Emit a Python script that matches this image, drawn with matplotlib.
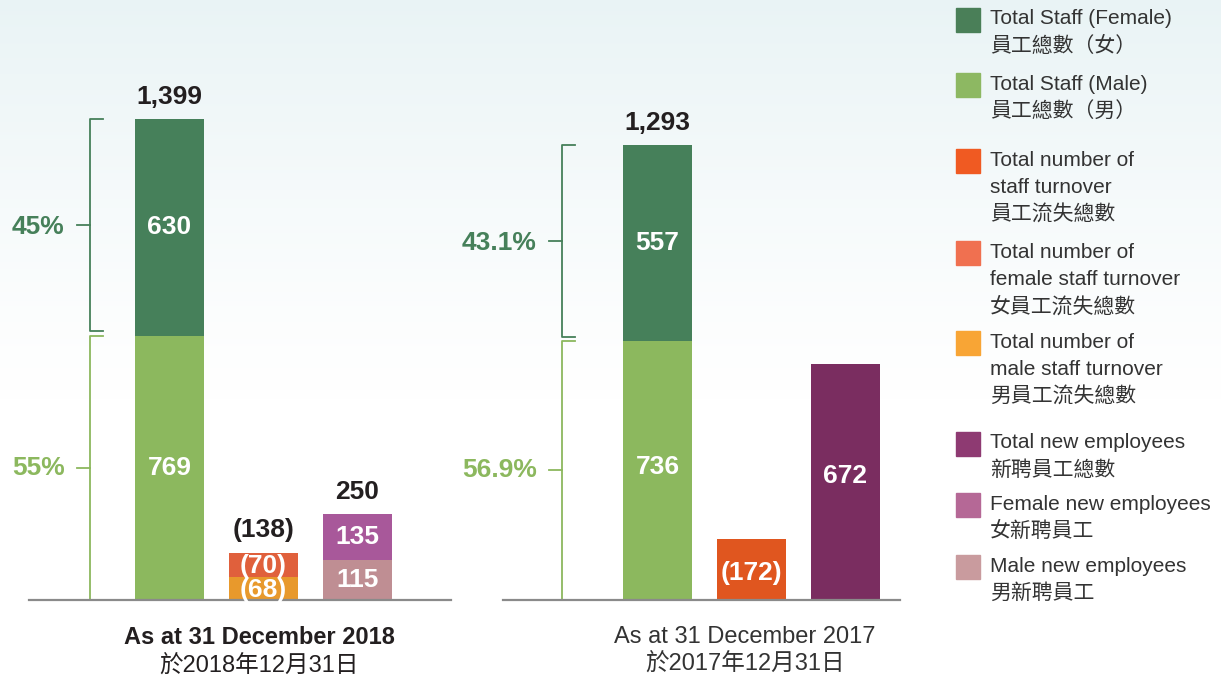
import numpy as np
import matplotlib
matplotlib.use("Agg")
import matplotlib.pyplot as plt
from matplotlib.patches import Rectangle

plt.rcParams['font.family'] = ['Liberation Sans', 'Noto Sans CJK TC']

# ---- data ----
female_staff = [630, 557]      # 2018, 2017
male_staff = [769, 736]
pct_female = ['45%', '43.1%']
pct_male = ['55%', '56.9%']
female_turnover_2018 = 70
male_turnover_2018 = 68
turnover_2017 = 172
female_new_2018 = 135
male_new_2018 = 115
new_2017 = 672
titles_en = ['As at 31 December 2018', 'As at 31 December 2017']
titles_zh = ['於2018年12月31日', '於2017年12月31日']

legend_labels = [
    'Total Staff (Female)\n員工總數（女）',
    'Total Staff (Male)\n員工總數（男）',
    'Total number of\nstaff turnover\n員工流失總數',
    'Total number of\nfemale staff turnover\n女員工流失總數',
    'Total number of\nmale staff turnover\n男員工流失總數',
    'Total new employees\n新聘員工總數',
    'Female new employees\n女新聘員工',
    'Male new employees\n男新聘員工',
]

# colours
c_female = '#46805a'
c_male = '#8cb85e'
c_turn = '#e0561f'
c_turn_f = '#e0603c'
c_turn_m = '#e8992c'
c_new = '#7a2d60'
c_new_f = '#a8589a'
c_new_m = '#bf8e93'
legend_colors = ['#4a7f58', '#8db862', '#f05a22', '#f07050', '#f8a535',
                 '#8e3a72', '#b56896', '#c99b9e']

W, H = 1221, 678
fig = plt.figure(figsize=(W / 100, H / 100), dpi=100)

# background: light blue-green wash at top fading to white
bg = fig.add_axes([0, 0, 1, 1], zorder=-10)
grad = np.linspace(0, 1, 300)[:, None]
top = np.array([0.915, 0.955, 0.962])
img = np.ones((300, 2, 3))
fade = np.clip(1 - grad * 1.7, 0, 1) ** 1.2
img = img - (1 - top) * fade[:, :, None]
bg.imshow(img, aspect='auto', extent=[0, 1, 0, 1])
bg.axis('off')


def fx(px):
    return px / W


def fy(py):
    return 1 - py / H


x = np.arange(3)
width = 0.73

ax1 = fig.add_axes([fx(29), fy(600), fx(451) - fx(29), fy(0) - fy(600)])
ax2 = fig.add_axes([fx(503), fy(600), fx(900) - fx(503), fy(0) - fy(600)])
ax1.set_xlim(-1.495, 2.995)
ax1.set_ylim(0, 1745)
ax2.set_xlim(-1.644, 2.58)
ax2.set_ylim(0, 1705)

for ax in (ax1, ax2):
    ax.patch.set_alpha(0)
    for s in ['top', 'right', 'left']:
        ax.spines[s].set_visible(False)
    ax.spines['bottom'].set_color('#8a8a8a')
    ax.spines['bottom'].set_linewidth(1.6)
    ax.set_xticks([])
    ax.set_yticks([])

val_kw = dict(ha='center', va='center', color='white', fontsize=19, fontweight='bold')
top_kw = dict(ha='center', va='center', color='#231f20', fontsize=19, fontweight='bold',
              textcoords='offset points', xytext=(0, 16))

# ---- 2018 ----
ax1.bar(x[0], male_staff[0], width, color=c_male)
ax1.bar(x[0], female_staff[0], width, bottom=male_staff[0], color=c_female)
ax1.bar(x[1], male_turnover_2018, width, color=c_turn_m)
ax1.bar(x[1], female_turnover_2018, width, bottom=male_turnover_2018, color=c_turn_f)
ax1.bar(x[2], male_new_2018, width, color=c_new_m)
ax1.bar(x[2], female_new_2018, width, bottom=male_new_2018, color=c_new_f)

ax1.text(x[0], male_staff[0] / 2, str(male_staff[0]), **val_kw)
ax1.text(x[0], male_staff[0] + female_staff[0] / 2, str(female_staff[0]), **val_kw)
ax1.text(x[1], male_turnover_2018 / 2 - 4, f'({male_turnover_2018})', **val_kw)
ax1.text(x[1], male_turnover_2018 + female_turnover_2018 / 2 - 4,
         f'({female_turnover_2018})', **val_kw)
ax1.text(x[2], male_new_2018 / 2, str(male_new_2018), **val_kw)
ax1.text(x[2], male_new_2018 + female_new_2018 / 2, str(female_new_2018), **val_kw)

tot = male_staff[0] + female_staff[0]
ax1.annotate(f'{tot:,}', (x[0], tot), **top_kw)
tt = male_turnover_2018 + female_turnover_2018
ax1.annotate(f'({tt})', (x[1], tt), **top_kw)
tn = male_new_2018 + female_new_2018
ax1.annotate(f'{tn}', (x[2], tn), **top_kw)

# ---- 2017 ----
ax2.bar(x[0], male_staff[1], width, color=c_male)
ax2.bar(x[0], female_staff[1], width, bottom=male_staff[1], color=c_female)
ax2.bar(x[1], turnover_2017, width, color=c_turn)
ax2.bar(x[2], new_2017, width, color=c_new)

ax2.text(x[0], male_staff[1] / 2 + 10, str(male_staff[1]), **val_kw)
ax2.text(x[0], male_staff[1] + female_staff[1] / 2, str(female_staff[1]), **val_kw)
ax2.text(x[1], turnover_2017 / 2 - 10, f'({turnover_2017})', **val_kw)
ax2.text(x[2], new_2017 / 2 + 15, str(new_2017), **val_kw)
tot2 = male_staff[1] + female_staff[1]
ax2.annotate(f'{tot2:,}', (x[0], tot2), **top_kw)


# ---- brackets with percentage labels ----
def bracket(ax, bx, male, female, pf, pm, tick=0.14, lab_off=0.27):
    tot = male + female
    gap = 12
    # female (dark) part
    ax.plot([bx + tick, bx, bx, bx + tick], [tot, tot, male + gap, male + gap],
            color=c_female, lw=1.3, clip_on=False)
    ax.plot([bx - tick, bx], [male + gap / 2 + female / 2] * 2, color=c_female, lw=1.3,
            clip_on=False)
    ax.text(bx - lab_off, male + female / 2, pf, ha='right', va='center',
            color=c_female, fontsize=19, fontweight='bold')
    # male (light) part
    ax.plot([bx + tick, bx, bx], [male, male, 0], color=c_male, lw=1.3, clip_on=False)
    ax.plot([bx - tick, bx], [male / 2] * 2, color=c_male, lw=1.3, clip_on=False)
    ax.text(bx - lab_off, male / 2, pm, ha='right', va='center',
            color=c_male, fontsize=19, fontweight='bold')


bracket(ax1, -0.846, male_staff[0], female_staff[0], pct_female[0], pct_male[0])
bracket(ax2, -1.016, male_staff[1], female_staff[1], pct_female[1], pct_male[1])

# ---- bottom titles ----
fig.text(fx(259), fy(637), titles_en[0], ha='center', va='center', fontsize=17,
         fontweight='bold', color='#231f20')
fig.text(fx(259), fy(665), titles_zh[0], ha='center', va='center', fontsize=17,
         color='#231f20')
fig.text(fx(745), fy(637), titles_en[1], ha='center', va='center', fontsize=17,
         color='#333333')
fig.text(fx(745), fy(664), titles_zh[1], ha='center', va='center', fontsize=17,
         color='#333333')

# ---- legend ----
sq_top = [8, 73, 149, 241, 331, 432, 493, 555]
line_h = 27.3
for lab, col, y0 in zip(legend_labels, legend_colors, sq_top):
    fig.add_artist(Rectangle((fx(956), fy(y0 + 24)), 24 / W, 24 / H, color=col,
                             transform=fig.transFigure))
    for i, line in enumerate(lab.split('\n')):
        fig.text(fx(990), fy(y0 + 11 + i * line_h), line, ha='left', va='center',
                 fontsize=15, color='#333333')

fig.savefig('out.png', dpi=100)
